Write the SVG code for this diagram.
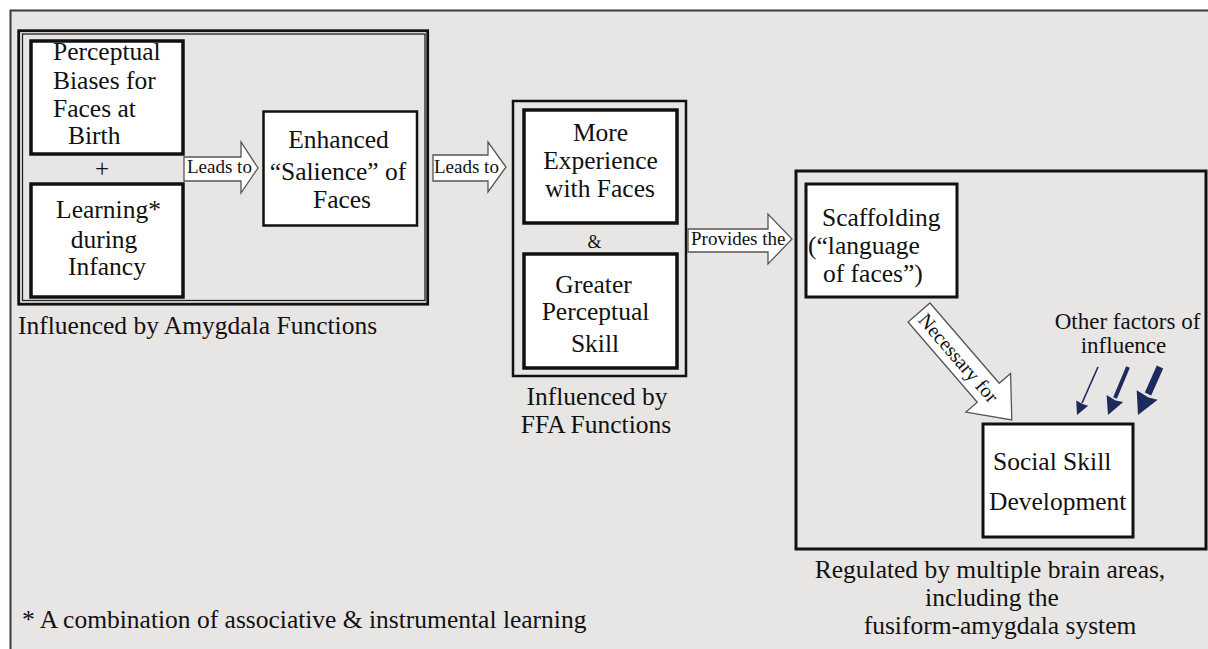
<svg xmlns="http://www.w3.org/2000/svg" width="1208" height="649" viewBox="0 0 1208 649">
<style>
text{font-family:'Liberation Serif','DejaVu Serif',serif;fill:#111;}
.t{font-size:25.5px;}
.c{text-anchor:middle;}
.s{font-size:19px;}
.box{fill:#fff;stroke:#111;}
.blk{fill:#fff;stroke:#555;stroke-width:1.3;stroke-linejoin:miter;}
.nv{fill:#1c2b5c;}
.nvl{stroke:#1c2b5c;fill:none;}
</style>
<rect x="0" y="0" width="1208" height="649" fill="#fff"/>
<rect x="10.5" y="10.5" width="1210" height="660" fill="#e8e5e5" stroke="#3a3a3a" stroke-width="2"/>

<g id="amygdala-group">
<rect x="18.7" y="30.7" width="409" height="273.5" fill="none" stroke="#111" stroke-width="2.8"/>
<rect x="22.5" y="34" width="402.5" height="266.5" fill="none" stroke="#222" stroke-width="1.3"/>
<text class="t" x="18" y="334">Influenced by Amygdala Functions</text>
</g>
<g id="perceptual-biases">
<rect class="box" x="31" y="41" width="152" height="113" stroke-width="3.5"/>
<text class="t" x="53" y="60">Perceptual</text>
<text class="t" x="53" y="89">Biases for</text>
<text class="t" x="53" y="117">Faces at</text>
<text class="t" x="68" y="144">Birth</text>
</g>
<text class="c" style="font-size:25px" x="102" y="177">+</text>
<g id="learning">
<rect class="box" x="31" y="184" width="152" height="113" stroke-width="3.5"/>
<text class="t c" x="108.5" y="218">Learning*</text>
<text class="t c" x="104" y="248">during</text>
<text class="t c" x="107" y="275">Infancy</text>
</g>
<g id="enhanced-salience">
<rect class="box" x="263.5" y="111.5" width="153.5" height="114" stroke-width="2.5"/>
<text class="t c" x="338.5" y="148">Enhanced</text>
<text class="t c" x="338" y="180">“Salience” of</text>
<text class="t c" x="342" y="208">Faces</text>
</g>

<g id="ffa-group">
<rect x="513" y="101" width="173" height="275" fill="none" stroke="#111" stroke-width="2.5"/>
<text class="t c" x="597" y="405">Influenced by</text>
<text class="t c" x="596" y="433">FFA Functions</text>
</g>
<g id="more-experience">
<rect class="box" x="524" y="110" width="153" height="113" stroke-width="3.5"/>
<text class="t c" x="600.5" y="141">More</text>
<text class="t c" x="600.5" y="169">Experience</text>
<text class="t c" x="600" y="197">with Faces</text>
</g>
<text class="c" style="font-size:18px" x="594.5" y="248">&amp;</text>
<g id="greater-skill">
<rect class="box" x="524" y="254" width="153" height="114" stroke-width="3.5"/>
<text class="t c" x="593.5" y="293">Greater</text>
<text class="t c" x="595.5" y="320">Perceptual</text>
<text class="t c" x="595" y="352">Skill</text>
</g>

<g id="social-group">
<rect x="796" y="171" width="410" height="378" fill="none" stroke="#111" stroke-width="3"/>
<text class="t c" x="990" y="578">Regulated by multiple brain areas,</text>
<text class="t c" x="992" y="606">including the</text>
<text class="t c" x="1000" y="634">fusiform-amygdala system</text>
</g>
<g id="scaffolding">
<rect class="box" x="806" y="184" width="151" height="113" stroke-width="3"/>
<text class="t" x="822" y="226">Scaffolding</text>
<text class="t" x="808" y="254">(“language</text>
<text class="t" x="823" y="282">of faces”)</text>
</g>
<g id="social-skill">
<rect class="box" x="983" y="424" width="150" height="113" stroke-width="3"/>
<text class="t" x="993" y="470">Social Skill</text>
<text class="t" x="989" y="510">Development</text>
</g>
<g id="other-factors">
<text class="c" style="font-size:23px" x="1127.5" y="329">Other factors of</text>
<text class="c" style="font-size:23px" x="1123.5" y="353">influence</text>
</g>

<g id="connectors">
<polygon class="blk" points="184,157 241,157 241,142 258,168 241,193 241,181 184,181"/>
<text class="s" x="187" y="173">Leads to</text>
<polygon class="blk" points="433,155 488,155 488,142 506,167 488,192 488,181 433,181"/>
<text class="s" x="434" y="173">Leads to</text>
<polygon class="blk" points="688,229 768,229 768,214 792,239 768,264 768,252 688,252"/>
<text class="s" x="691" y="245">Provides the</text>
<g transform="translate(919,312.5) rotate(49.2)">
<polygon class="blk" points="0,-14.5 106,-14.5 106,-29.5 142,0 106,29.5 106,14.5 0,14.5"/>
<text style="font-size:20px" x="5" y="6.5">Necessary for</text>
</g>
<line class="nvl" x1="1098" y1="367" x2="1082" y2="403" stroke-width="1.6"/>
<polygon class="nv" points="1077,415 1088.2,405.7 1082.6,404 1076.2,400.5"/>
<line class="nvl" x1="1128" y1="367" x2="1115" y2="398" stroke-width="4"/>
<polygon class="nv" points="1108,415 1123.2,401.9 1115.6,400.5 1106.6,394.9"/>
<line class="nvl" x1="1160" y1="367" x2="1148" y2="394" stroke-width="7"/>
<polygon class="nv" points="1138,415 1157.7,399.8 1148.5,397.5 1136.7,390.2"/>
</g>
<text class="t" x="22" y="628">* A combination of associative &amp; instrumental learning</text>
</svg>
